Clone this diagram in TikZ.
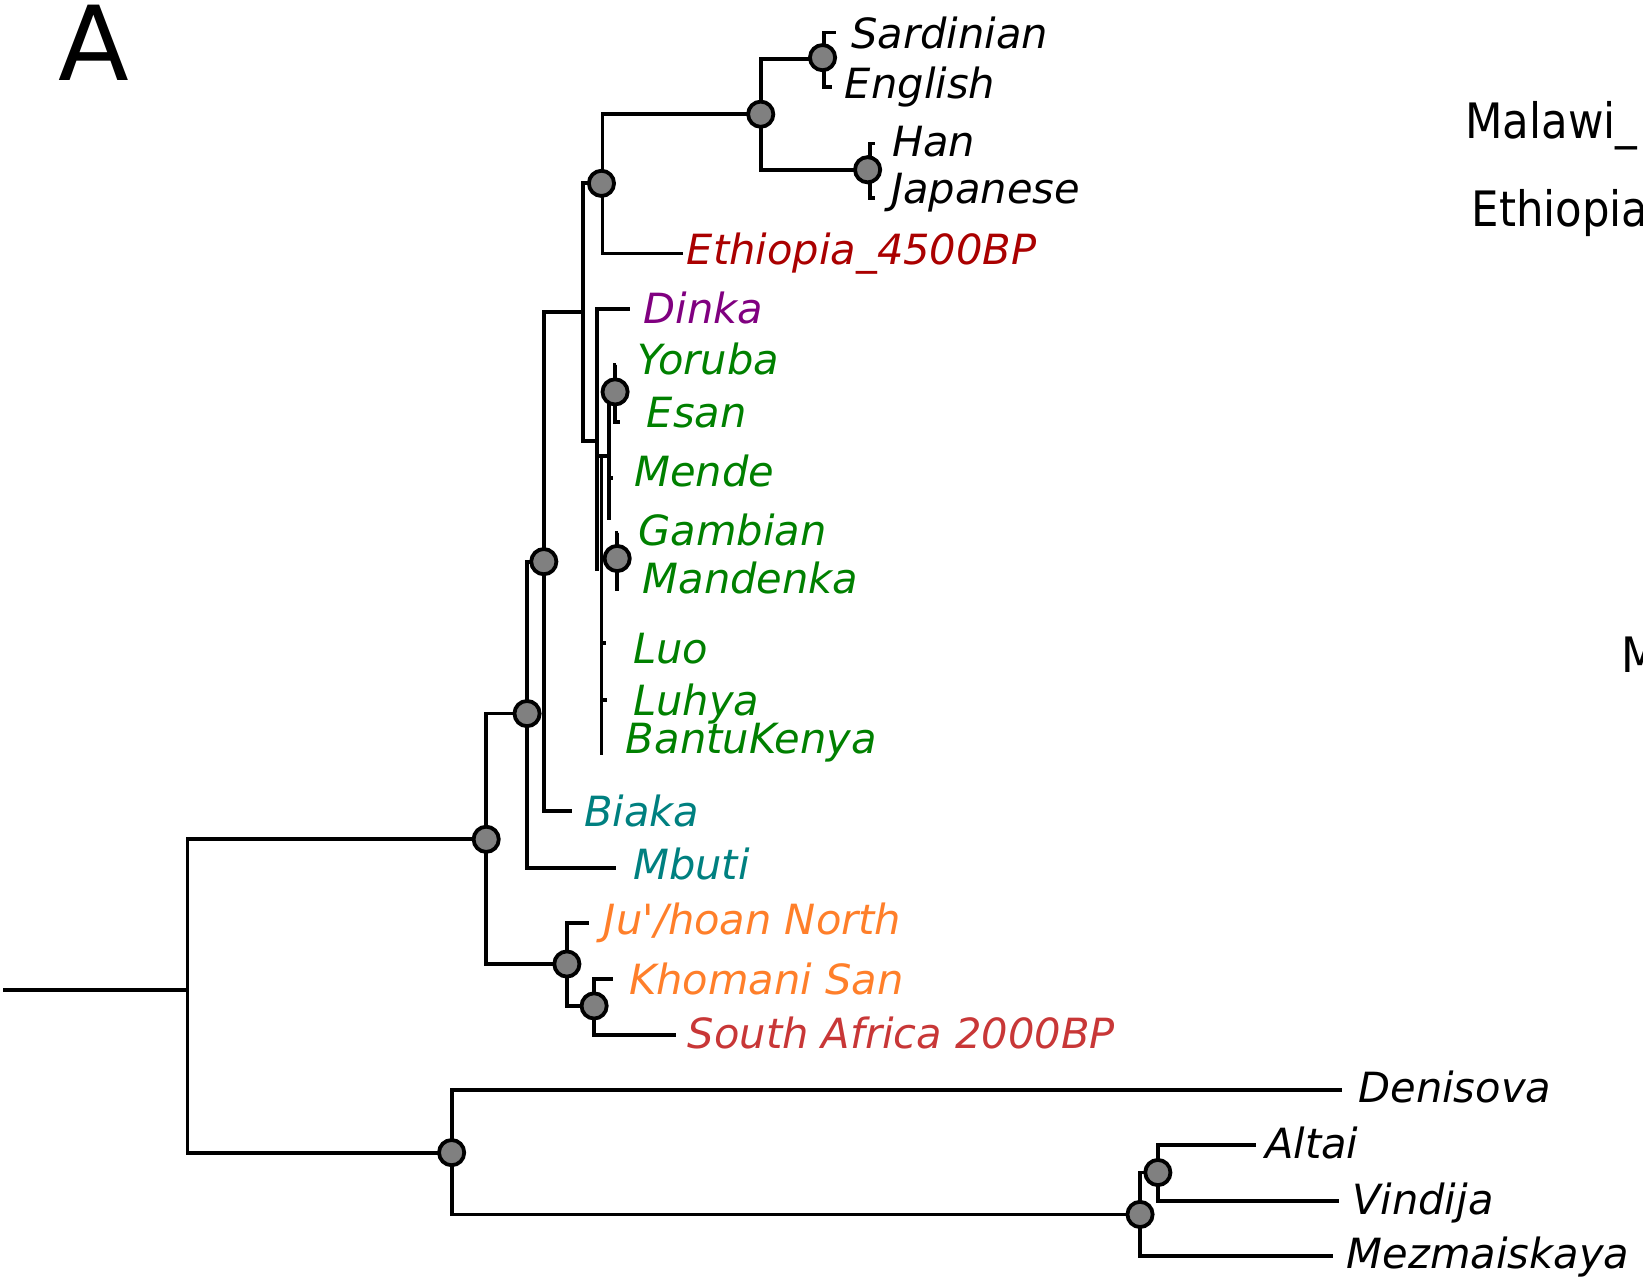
\documentclass[tikz,border=0pt]{standalone}
\usepackage{fontspec}
\newfontfamily\labfont{DejaVu Sans}[Ligatures=TeXOff]
\definecolor{ethred}{RGB}{170,0,0}
\definecolor{dinkac}{RGB}{128,0,128}
\definecolor{wafr}{RGB}{0,128,0}
\definecolor{pyg}{RGB}{0,128,128}
\definecolor{khoi}{RGB}{255,127,42}
\definecolor{safr}{RGB}{200,55,55}
\definecolor{nodegray}{RGB}{128,128,128}
\begin{document}
\begin{tikzpicture}[x=0.5239pt,y=-0.5239pt,
  br/.style={line width=1.9pt},
  tn/.style={circle,draw=black,fill=nodegray,line width=1.9pt,minimum size=12.6pt,inner sep=0pt},
  lab/.style={anchor=base west,inner sep=0pt,font=\labfont\itshape\fontsize{20.8}{25}\selectfont},
  rt/.style={anchor=base west,inner sep=0pt,font=\labfont\fontsize{24.4}{29}\selectfont}]
\clip (0,0) rectangle (1568,1224);
% internal points
\coordinate (c0) at (3,945);
\coordinate (cr) at (179,945);
\coordinate (c1) at (464,801);
\coordinate (c2) at (431,1100);
\coordinate (c3) at (503,681);
\coordinate (c4) at (541,920);
\coordinate (c5) at (519,536);
\coordinate (cm) at (556,298);
\coordinate (c6) at (575,175);
\coordinate (c7) at (726,109);
\coordinate (c8) at (786,56);
\coordinate (c9) at (830,162);
\coordinate (c10) at (587,374);
\coordinate (c11) at (589,533);
\coordinate (c12) at (567,960);
\coordinate (c13) at (1088,1159);
\coordinate (c14) at (1105,1119);
\coordinate (g0) at (570,421);
\coordinate (g0b) at (570,545);
\coordinate (gj) at (570,435);
\coordinate (g1) at (574,435);
\coordinate (g2) at (581,435);
\coordinate (g2b) at (581,496);
% leaf tips
\coordinate (lSard) at (798,31);
\coordinate (lEng) at (794,83);
\coordinate (lHan) at (835,137);
\coordinate (lJap) at (835,189);
\coordinate (lEth) at (652,242);
\coordinate (lDinka) at (601,295);
\coordinate (lYor) at (588,348);
\coordinate (lEsan) at (592,403);
\coordinate (lMende) at (585,456);
\coordinate (lGam) at (590,509);
\coordinate (lMand) at (591,562);
\coordinate (lLuo) at (578,614);
\coordinate (lLuhya) at (579,668);
\coordinate (lBantu) at (574,721);
\coordinate (lBiaka) at (546,774);
\coordinate (lMbuti) at (588,828);
\coordinate (lJu) at (562,881);
\coordinate (lKho) at (585,934);
\coordinate (lSA) at (645,988);
\coordinate (lDen) at (1281,1040);
\coordinate (lAlt) at (1199,1093);
\coordinate (lVin) at (1278,1146);
\coordinate (lMez) at (1272,1199);
% branches
\draw[br] (c0) -- (cr);
\draw[br] (cr) |- (c1);
\draw[br] (cr) |- (c2);
\draw[br] (c1) |- (c3);
\draw[br] (c1) |- (c4);
\draw[br] (c3) |- (c5);
\draw[br] (c3) |- (lMbuti);
\draw[br] (c5) |- (cm);
\draw[br] (c5) |- (lBiaka);
\draw[br] (cm) |- (c6);
\draw[br] (cm) |- (g0);
\draw[br] (c6) |- (c7);
\draw[br] (c6) |- (lEth);
\draw[br] (c7) |- (c8);
\draw[br] (c7) |- (c9);
\draw[br] (c8) |- (lSard);
\draw[br] (c8) |- (lEng);
\draw[br] (c9) |- (lHan);
\draw[br] (c9) |- (lJap);
\draw[br] (g0) |- (lDinka);
\draw[br] (g0) -- (g0b);
\draw[br] (gj) -- (g2);
\draw[br] (g1) -- (lBantu);
\draw[br] (g1) |- (lLuo);
\draw[br] (g1) |- (lLuhya);
\draw[br] (g1) |- (c11);
\draw[br] (g2) |- (c10);
\draw[br] (g2) |- (lMende);
\draw[br] (g2) -- (g2b);
\draw[br] (c10) |- (lYor);
\draw[br] (c10) |- (lEsan);
\draw[br] (c11) |- (lGam);
\draw[br] (c11) |- (lMand);
\draw[br] (c4) |- (lJu);
\draw[br] (c4) |- (c12);
\draw[br] (c12) |- (lKho);
\draw[br] (c12) |- (lSA);
\draw[br] (c2) |- (lDen);
\draw[br] (c2) |- (c13);
\draw[br] (c13) |- (c14);
\draw[br] (c13) |- (lMez);
\draw[br] (c14) |- (lAlt);
\draw[br] (c14) |- (lVin);
% node circles
\node[tn] (n1) at (c1) {};
\node[tn] (n2) at (c2) {};
\node[tn] (n3) at (c3) {};
\node[tn] (n4) at (c4) {};
\node[tn] (n5) at (c5) {};
\node[tn] (n6) at (574,175) {};
\node[tn] (n7) at (c7) {};
\node[tn] (n8) at (785,55) {};
\node[tn] (n9) at (828,162) {};
\node[tn] (n10) at (c10) {};
\node[tn] (n11) at (c11) {};
\node[tn] (n12) at (c12) {};
\node[tn] (n13) at (c13) {};
\node[tn] (n14) at (c14) {};
% labels
\node[lab] (tSard) at (812,46) {Sardinian};
\node[lab] (tEng) at (806,94) {English};
\node[lab] (tHan) at (851,149) {Han};
\node[lab] (tJap) at (850,194) {Japanese};
\node[lab,text=ethred] (tEth) at (655,252) {Ethiopia\_4500BP};
\node[lab,text=dinkac] (tDinka) at (614,309) {Dinka};
\node[lab,text=wafr] (tYor) at (608,357) {Yoruba};
\node[lab,text=wafr] (tEsan) at (617,408) {Esan};
\node[lab,text=wafr] (tMende) at (605,464) {Mende};
\node[lab,text=wafr] (tGam) at (609,521) {Gambian};
\node[lab,text=wafr] (tMand) at (613,566) {Mandenka};
\node[lab,text=wafr] (tLuo) at (604,633) {Luo};
\node[lab,text=wafr] (tLuhya) at (604,683) {Luhya};
\node[lab,text=wafr] (tBantu) at (597,719) {BantuKenya};
\node[lab,text=pyg] (tBiaka) at (557,789) {Biaka};
\node[lab,text=pyg] (tMbuti) at (604,839) {Mbuti};
\node[lab,text=khoi] (tJu) at (576,892) {Ju'/hoan North};
\node[lab,text=khoi] (tKho) at (600,949) {Khomani San};
\node[lab,text=safr] (tSA) at (656,1001) {South Africa 2000BP};
\node[lab] (tDen) at (1296,1052) {Denisova};
\node[lab] (tAlt) at (1207,1106) {Altai};
\node[lab] (tVin) at (1290,1159) {Vindija};
\node[lab] (tMez) at (1285,1211) {Mezmaiskaya};
% panel letter and cut-off texts
\node[anchor=base west,inner sep=0pt,font=\labfont\fontsize{51.7}{60}\selectfont] (tA) at (55,77) {A};
\node[rt] (tMal) at (1398,132) {\scalebox{0.89}[1]{Malawi\_}};
\node[rt] (tEthR) at (1404,216) {\scalebox{0.89}[1]{Ethiopia}};
\node[rt] (tM) at (1547,642) {\scalebox{0.89}[1]{M}};
\end{tikzpicture}
\end{document}
